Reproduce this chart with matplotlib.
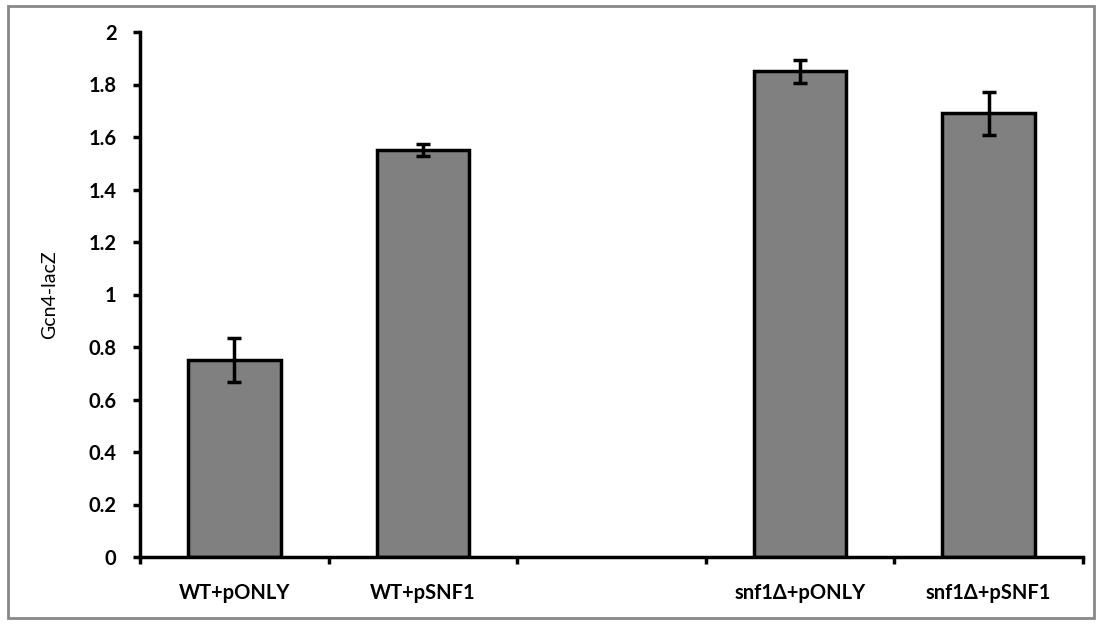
import numpy as np
import matplotlib
matplotlib.use("Agg")
import matplotlib.pyplot as plt
from matplotlib.patches import Rectangle

# Data (middle slot is empty)
categories = ["WT+pONLY", "WT+pSNF1", "", "snf1\u0394+pONLY", "snf1\u0394+pSNF1"]
values = [0.75, 1.55, np.nan, 1.85, 1.69]
errors = [0.085, 0.022, np.nan, 0.045, 0.082]
y_ticks = [0, 0.2, 0.4, 0.6, 0.8, 1, 1.2, 1.4, 1.6, 1.8, 2]
y_label = "Gcn4-lacZ"

plt.rcParams['font.family'] = ['Lato', 'DejaVu Sans']

fig = plt.figure(figsize=(11.01, 6.24), dpi=100)
ax = fig.add_axes([140 / 1101, 1 - 557 / 624, (1083 - 140) / 1101, (557 - 32) / 624])

x = np.arange(len(categories))
ax.bar(x, values, width=0.49, color="#808080", edgecolor="black", linewidth=2.5, zorder=2)
ax.errorbar(x, values, yerr=errors, fmt="none", ecolor="black", elinewidth=2.5,
            capsize=5, capthick=2.5, zorder=3)

ax.set_xlim(-0.5, len(categories) - 0.5)
ax.set_ylim(0, 2)
ax.set_yticks(y_ticks)
ax.set_yticklabels([f"{t:g}" for t in y_ticks], fontweight="bold")

# category labels at centres, tick marks at the boundaries
ax.set_xticks(x)
ax.set_xticklabels(categories, fontweight="bold")
ax.tick_params(axis="x", which="major", length=0, pad=19, labelsize=14.5)
ax.set_xticks(np.arange(len(categories) + 1) - 0.5, minor=True)
ax.tick_params(axis="x", which="minor", length=5, width=2.5, direction="out")
ax.tick_params(axis="y", length=5, width=2.5, direction="out", pad=12, labelsize=14.5)

for side in ["top", "right"]:
    ax.spines[side].set_visible(False)
for side in ["left", "bottom"]:
    ax.spines[side].set_linewidth(2.5)

ax.set_ylabel(y_label, fontsize=14, labelpad=22)

# gray frame around the chart area
fig.patches.append(Rectangle((8 / 1101, 6 / 624), 1086 / 1101, 612 / 624,
                             transform=fig.transFigure, fill=False,
                             edgecolor="#888888", linewidth=2))

fig.savefig("out.png", dpi=100)
